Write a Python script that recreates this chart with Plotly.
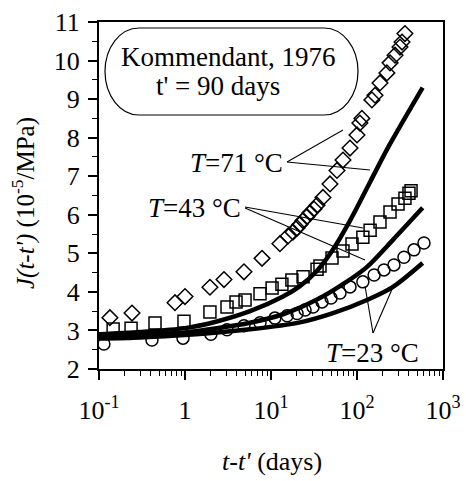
import plotly.graph_objects as go

# ---------------- data ----------------
# T = 71 °C (open diamonds)
t71 = [0.134, 0.242, 0.765, 1.0, 1.95, 2.84, 4.85, 7.86, 12.7, 15.8, 18.0, 20.1, 21.7,
       23.6, 26.2, 28.4, 31.6, 34.3, 40.2, 48.5, 58.5, 68.7, 82.9, 100, 108, 114, 149,
       162, 185, 223, 242, 277, 316, 334, 361]
J71 = [3.33, 3.45, 3.72, 3.88, 4.12, 4.32, 4.52, 4.87, 5.25, 5.45, 5.55, 5.66, 5.75,
       5.85, 5.95, 6.05, 6.15, 6.25, 6.45, 6.8, 7.15, 7.42, 7.73, 8.07, 8.38, 8.5, 8.98,
       9.1, 9.42, 9.68, 9.94, 10.14, 10.35, 10.48, 10.7]

# T = 43 °C (open squares)
t43 = [0.146, 0.236, 0.448, 0.973, 1.95, 3.08, 3.92, 4.99, 7.45, 10.3, 13.4, 17.5, 23.6,
       34.3, 37.1, 51.2, 68.7, 87.5, 117, 142, 185, 242, 300, 361, 402, 425]
J43 = [3.04, 3.06, 3.19, 3.24, 3.48, 3.61, 3.74, 3.79, 3.95, 4.1, 4.2, 4.31, 4.39,
       4.59, 4.67, 4.88, 5.06, 5.24, 5.42, 5.6, 5.81, 6.07, 6.28, 6.43, 6.56, 6.62]

# T = 23 °C (open circles)
t23 = [0.114, 0.413, 0.948, 2.0, 3.08, 4.85, 7.45, 11.1, 15.4, 20.1, 24.9, 30.8, 39.2,
       49.9, 63.4, 82.9, 117, 158, 206, 269, 352, 460, 601]
J23 = [2.65, 2.75, 2.8, 2.9, 3.02, 3.12, 3.2, 3.32, 3.38, 3.44, 3.53, 3.61, 3.74,
       3.84, 3.97, 4.13, 4.26, 4.44, 4.57, 4.7, 4.9, 5.09, 5.27]

# model curves (thick lines)
c71_t = [0.1, 0.3, 1, 2.23, 5.7, 13.8, 21.7, 34.3, 52.6, 83, 142, 230, 580]
c71_J = [2.9, 2.96, 3.06, 3.22, 3.5, 3.88, 4.15, 4.55, 5.1, 5.85, 6.85, 7.75, 9.3]
c43_t = [0.1, 0.3, 1, 2.23, 5.7, 13.8, 34.3, 68.7, 131, 262, 580]
c43_J = [2.84, 2.88, 2.95, 3.05, 3.2, 3.42, 3.8, 4.2, 4.65, 5.35, 6.18]
c23_t = [0.1, 0.3, 1, 5.7, 21.7, 52.6, 131, 262, 580]
c23_J = [2.79, 2.82, 2.88, 3.03, 3.21, 3.45, 3.79, 4.13, 4.75]

x_tickvals = [0.1, 1, 10, 100, 1000]
x_ticktext = ["10<sup>-1</sup>", "1", "10<sup>1</sup>", "10<sup>2</sup>", "10<sup>3</sup>"]

FONT = "Liberation Serif, Times New Roman, serif"

fig = go.Figure()
mk = dict(color="black", size=12, line=dict(color="black", width=1.5))
fig.add_trace(go.Scatter(x=t71, y=J71, mode="markers",
                         marker=dict(symbol="diamond-open", **mk), showlegend=False))
fig.add_trace(go.Scatter(x=t43, y=J43, mode="markers",
                         marker=dict(symbol="square-open", **mk), showlegend=False))
fig.add_trace(go.Scatter(x=t23, y=J23, mode="markers",
                         marker=dict(symbol="circle-open", **mk), showlegend=False))
for ct, cj in [(c71_t, c71_J), (c43_t, c43_J), (c23_t, c23_J)]:
    fig.add_trace(go.Scatter(x=ct, y=cj, mode="lines",
                             line=dict(color="black", width=4.5, shape="spline", smoothing=0.8),
                             showlegend=False))

# plot-area geometry (pixels) for paper conversions
L, R, T, B = 99, 443, 22, 369
W, H = R - L, B - T
def px(x):
    return (x - L) / W
def py(y):
    return (B - y) / H

shapes = []
# leader lines
leaders = [((287, 162), (343, 130)), ((287, 162), (370, 170)),
           ((245, 207), (363, 228)), ((245, 208), (365, 260)),
           ((373, 333), (365, 286)), ((373, 333), (393, 287))]
for (x0, y0), (x1, y1) in leaders:
    shapes.append(dict(type="line", xref="paper", yref="paper",
                       x0=px(x0), y0=py(y0), x1=px(x1), y1=py(y1),
                       line=dict(color="black", width=1.1)))

# rounded box around the source label
bx0, bx1, by0, by1 = 105, 358, 28, 115
rx = 34
ry = (by1 - by0) / 2
ym = (by0 + by1) / 2
k = 0.5523
def P(x, y):
    return f"{px(x):.5f},{py(y):.5f}"
path = (f"M {P(bx0 + rx, by0)} L {P(bx1 - rx, by0)} "
        f"C {P(bx1 - rx + k * rx, by0)} {P(bx1, ym - k * ry)} {P(bx1, ym)} "
        f"C {P(bx1, ym + k * ry)} {P(bx1 - rx + k * rx, by1)} {P(bx1 - rx, by1)} "
        f"L {P(bx0 + rx, by1)} "
        f"C {P(bx0 + rx - k * rx, by1)} {P(bx0, ym + k * ry)} {P(bx0, ym)} "
        f"C {P(bx0, ym - k * ry)} {P(bx0 + rx - k * rx, by0)} {P(bx0 + rx, by0)} Z")
shapes.append(dict(type="path", xref="paper", yref="paper", path=path,
                   line=dict(color="black", width=1.2)))

annos = []
def text(x, y, s, size=27, xanchor="center", angle=0):
    annos.append(dict(xref="paper", yref="paper", x=px(x), y=py(y), text=s,
                      showarrow=False, xanchor=xanchor, yanchor="middle",
                      textangle=angle, font=dict(family=FONT, size=size, color="black")))

text(228, 57, "Kommendant, 1976")
text(218, 86, "t' = 90 days")
text(285, 163, "<i>T</i>=71 °C", xanchor="right")
text(243, 208, "<i>T</i>=43 °C", xanchor="right")
text(421, 353, "<i>T</i>=23 °C", xanchor="right")
text(272, 461, "<i>t-t'</i> (days)", size=26)
text(23, 203, "<i>J(t-t')</i> (10<sup>-5</sup>/MPa)", size=25, angle=-90)

minor_x = [m * 10 ** e for e in (-1, 0, 1, 2) for m in range(2, 10)]

fig.update_layout(
    width=466, height=481,
    margin=dict(l=L, r=466 - R, t=T, b=481 - B, autoexpand=False),
    paper_bgcolor="white", plot_bgcolor="white",
    font=dict(family=FONT, size=26, color="black"),
    shapes=shapes, annotations=annos,
    xaxis=dict(type="log", range=[-1, 3], tickmode="array",
               tickvals=x_tickvals, ticktext=x_ticktext, automargin=False,
               ticks="outside", ticklen=9, tickwidth=1.5, tickcolor="black",
               showline=True, linecolor="black", linewidth=2, mirror=True,
               showgrid=False, zeroline=False, ticklabelstandoff=8,
               tickfont=dict(family=FONT, size=26, color="black"),
               minor=dict(tickmode="array", tickvals=minor_x, ticks="outside",
                          ticklen=5, tickwidth=1.2, tickcolor="black", showgrid=False)),
    yaxis=dict(range=[2, 11], tickmode="linear", tick0=2, dtick=1, automargin=False,
               ticks="outside", ticklen=9, tickwidth=1.5, tickcolor="black",
               showline=True, linecolor="black", linewidth=2, mirror=True,
               showgrid=False, zeroline=False, ticklabelstandoff=3,
               tickfont=dict(family=FONT, size=26, color="black"),
               minor=dict(tickmode="linear", tick0=2, dtick=0.5, ticks="outside",
                          ticklen=5, tickwidth=1.2, tickcolor="black", showgrid=False)),
)

fig.write_html("out.html", config={"displayModeBar": False},
               post_script="document.body.style.margin='0';document.body.style.overflow='hidden';")
